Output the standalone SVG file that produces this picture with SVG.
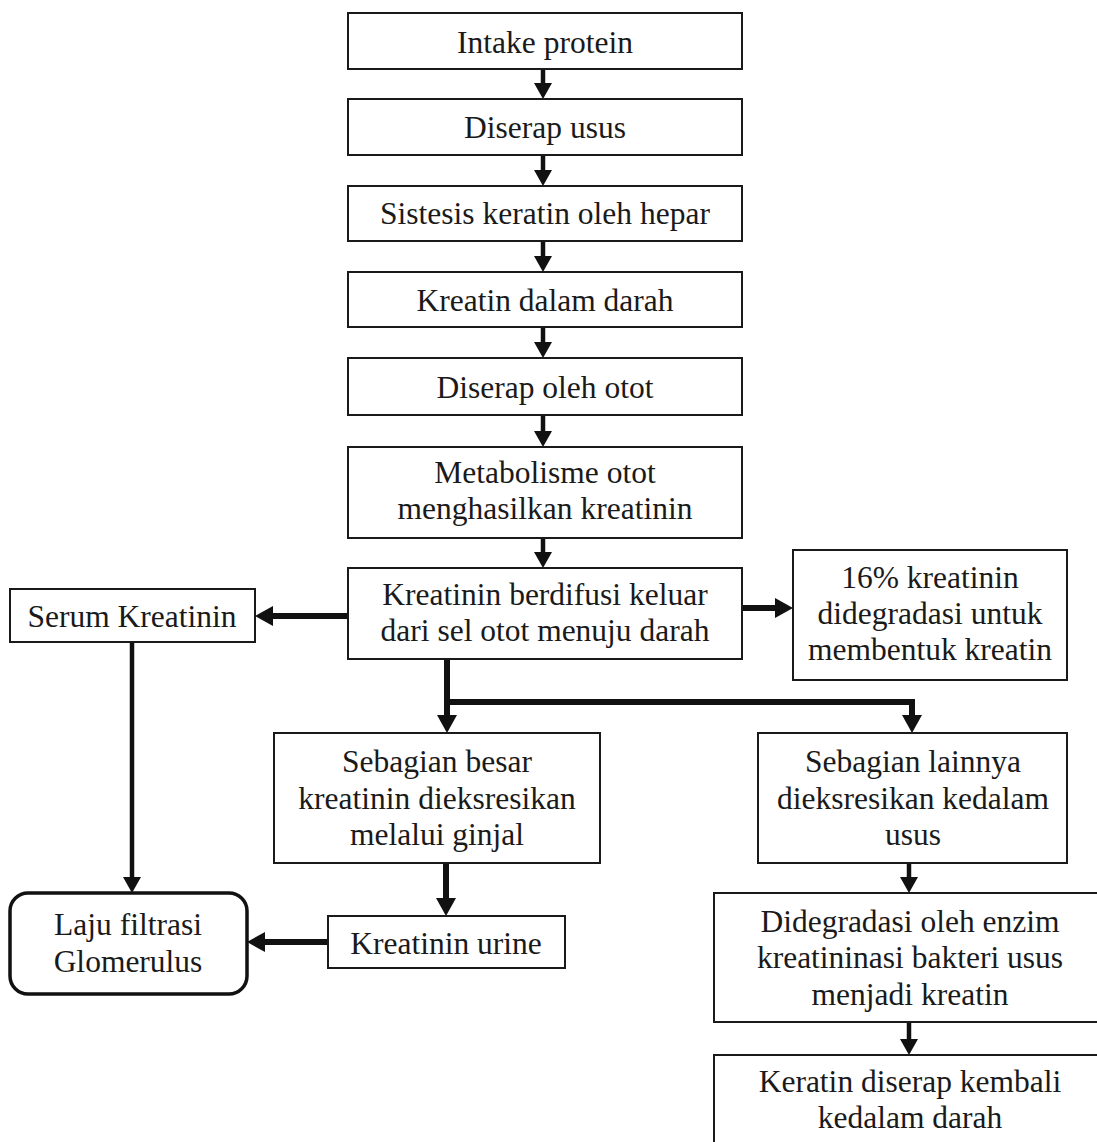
<svg xmlns="http://www.w3.org/2000/svg" width="1097" height="1142" viewBox="0 0 1097 1142">
<style>
.box{fill:#ffffff;stroke:#1a1a1a;stroke-width:2}
.rbox{fill:#ffffff;stroke:#111;stroke-width:3.5}
.t{font-family:"Liberation Serif","Times New Roman",serif;font-size:31.5px;fill:#1a1a1a;text-anchor:middle}
.c{fill:none;stroke:#111;stroke-width:4.5}
.cb{fill:none;stroke:#111;stroke-width:6}
</style>
<defs>
<marker id="ah" viewBox="0 0 16 18" markerWidth="16" markerHeight="18" refX="0" refY="9" orient="auto" markerUnits="userSpaceOnUse">
<path d="M0,0 L16,9 L0,18 z" fill="#111"/>
</marker>
<marker id="ahb" viewBox="0 0 18 20" markerWidth="18" markerHeight="20" refX="0" refY="10" orient="auto" markerUnits="userSpaceOnUse">
<path d="M0,0 L18,10 L0,20 z" fill="#111"/>
</marker>
</defs>
<rect width="1097" height="1142" fill="#ffffff"/>
<g id="connectors">
<line class="c" x1="543" y1="69" x2="543" y2="83" marker-end="url(#ah)"/>
<line class="c" x1="543" y1="155" x2="543" y2="170" marker-end="url(#ah)"/>
<line class="c" x1="543" y1="241" x2="543" y2="256" marker-end="url(#ah)"/>
<line class="c" x1="543" y1="327" x2="543" y2="342" marker-end="url(#ah)"/>
<line class="c" x1="543" y1="415" x2="543" y2="431" marker-end="url(#ah)"/>
<line class="c" x1="543" y1="538" x2="543" y2="552" marker-end="url(#ah)"/>
<line class="cb" x1="348" y1="616" x2="273" y2="616" marker-end="url(#ahb)"/>
<line class="cb" x1="742" y1="608" x2="775" y2="608" marker-end="url(#ahb)"/>
<line class="c" x1="132" y1="642" x2="132" y2="877" marker-end="url(#ah)"/>
<line class="cb" x1="447" y1="659" x2="447" y2="715" marker-end="url(#ahb)"/>
<polyline class="cb" points="447,702 912,702 912,715" marker-end="url(#ahb)"/>
<line class="cb" x1="446" y1="863" x2="446" y2="898" marker-end="url(#ahb)"/>
<line class="cb" x1="328" y1="942" x2="265" y2="942" marker-end="url(#ahb)"/>
<line class="c" x1="909" y1="863" x2="909" y2="877" marker-end="url(#ah)"/>
<line class="c" x1="909" y1="1022" x2="909" y2="1039" marker-end="url(#ah)"/>
</g>
<g id="n1"><rect class="box" x="348" y="13" width="394" height="56"/><text class="t" x="545" y="53">Intake protein</text></g>
<g id="n2"><rect class="box" x="348" y="99" width="394" height="56"/><text class="t" x="545" y="138">Diserap usus</text></g>
<g id="n3"><rect class="box" x="348" y="186" width="394" height="55"/><text class="t" x="545" y="224">Sistesis keratin oleh hepar</text></g>
<g id="n4"><rect class="box" x="348" y="272" width="394" height="55"/><text class="t" x="545" y="311">Kreatin dalam darah</text></g>
<g id="n5"><rect class="box" x="348" y="358" width="394" height="57"/><text class="t" x="545" y="398">Diserap oleh otot</text></g>
<g id="n6"><rect class="box" x="348" y="447" width="394" height="91"/><text class="t" x="545" y="483">Metabolisme otot</text><text class="t" x="545" y="519">menghasilkan kreatinin</text></g>
<g id="n7"><rect class="box" x="348" y="568" width="394" height="91"/><text class="t" x="545" y="605">Kreatinin berdifusi keluar</text><text class="t" x="545" y="641">dari sel otot menuju darah</text></g>
<g id="n8"><rect class="box" x="10" y="589" width="245" height="53"/><text class="t" x="132" y="627">Serum Kreatinin</text></g>
<g id="n9"><rect class="box" x="793" y="550" width="274" height="130"/><text class="t" x="930" y="588">16% kreatinin</text><text class="t" x="930" y="624">didegradasi untuk</text><text class="t" x="930" y="660">membentuk kreatin</text></g>
<g id="n10"><rect class="box" x="274" y="733" width="326" height="130"/><text class="t" x="437" y="772">Sebagian besar</text><text class="t" x="437" y="809">kreatinin dieksresikan</text><text class="t" x="437" y="845">melalui ginjal</text></g>
<g id="n11"><rect class="box" x="758" y="733" width="309" height="130"/><text class="t" x="913" y="772">Sebagian lainnya</text><text class="t" x="913" y="809">dieksresikan kedalam</text><text class="t" x="913" y="845">usus</text></g>
<g id="n12"><rect class="box" x="328" y="916" width="237" height="52"/><text class="t" x="446" y="954">Kreatinin urine</text></g>
<g id="n13"><rect class="rbox" x="10" y="893" width="237" height="101" rx="18" ry="18"/><text class="t" x="128" y="935">Laju filtrasi</text><text class="t" x="128" y="972">Glomerulus</text></g>
<g id="n14"><rect class="box" x="714" y="893" width="395" height="129"/><text class="t" x="910" y="932">Didegradasi oleh enzim</text><text class="t" x="910" y="968">kreatininasi bakteri usus</text><text class="t" x="910" y="1005">menjadi kreatin</text></g>
<g id="n15"><rect class="box" x="714" y="1055" width="395" height="100"/><text class="t" x="910" y="1092">Keratin diserap kembali</text><text class="t" x="910" y="1128">kedalam darah</text></g>
</svg>
